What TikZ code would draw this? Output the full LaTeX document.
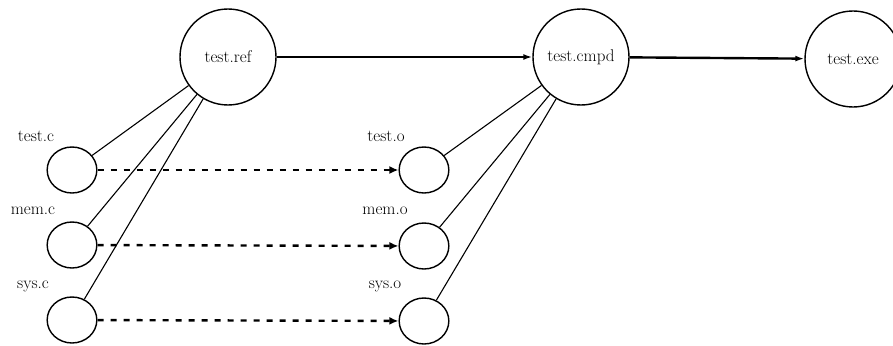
\documentclass[tikz,border=0pt]{standalone}
\usetikzlibrary{arrows.meta}
\begin{document}
\begin{tikzpicture}[x=1pt,y=-1pt,
  every node/.style={font=\fontsize{17}{20}\selectfont},
  bigfile/.style={circle,draw,line width=1.4pt,minimum size=96pt,inner sep=0pt},
  smallfile/.style={circle,draw,line width=1.4pt,minimum size=46pt,inner sep=0pt,xscale=1.08},
  filelabel/.style={inner sep=0pt},
  build/.style={line width=2.4pt,-{Latex[length=9pt,width=6pt]}},
  compile/.style={line width=2.4pt,dash pattern=on 6pt off 7pt,-{Latex[length=9pt,width=8pt]}},
  depends/.style={line width=1.1pt}]
\useasboundingbox (0,0) rectangle (893,345);
% link targets and executable
\node[bigfile] (ref)  at (228,57) {test.ref};
\node[bigfile] (cmpd) at (581,57) {test.cmpd};
\node[bigfile] (exe)  at (853,59) {test.exe};
% sources
\node[smallfile] (tc) at (72,170) {};
\node[smallfile] (mc) at (72,245) {};
\node[smallfile] (sc) at (72,320) {};
% objects
\node[smallfile] (to) at (424,170) {};
\node[smallfile] (mo) at (424,246) {};
\node[smallfile] (so) at (424,321) {};
% labels
\node[filelabel] (ltc) at (36,136) {test.c};
\node[filelabel] (lmc) at (33,211) {mem.c};
\node[filelabel] (lsc) at (33,286) {sys.c};
\node[filelabel] (lto) at (386,136) {test.o};
\node[filelabel] (lmo) at (385,211) {mem.o};
\node[filelabel] (lso) at (385,286) {sys.o};
% build chain
\draw[build] (ref) -- (cmpd);
\draw[build] (cmpd) -- (exe);
% compilation
\draw[compile] (tc) -- (to);
\draw[compile] (mc) -- (mo);
\draw[compile] (sc) -- (so);
% membership
\foreach \s in {tc,mc,sc} \draw[depends] (ref) -- (\s);
\foreach \s in {to,mo,so} \draw[depends] (cmpd) -- (\s);
\end{tikzpicture}
\end{document}
